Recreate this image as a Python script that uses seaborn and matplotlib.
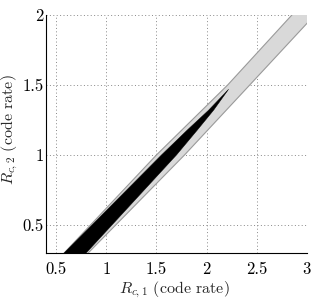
import matplotlib
matplotlib.use('Agg')
import matplotlib.pyplot as plt
import seaborn as sns

# gray band (achievable region), edges
band_upper_x = [0.44, 0.58, 1.50, 2.21, 2.85, 3.05]
band_upper_y = [0.20, 0.30, 1.00, 1.50, 2.00, 2.15]
band_lower_x = [0.69, 0.82, 1.78, 2.43, 3.00, 3.10]
band_lower_y = [0.20, 0.30, 1.00, 1.50, 1.94, 2.02]

# black wedge
wedge_upper_x = [0.44, 0.58, 1.55, 1.81, 2.02, 2.22]
wedge_upper_y = [0.20, 0.30, 1.00, 1.18, 1.32, 1.47]
wedge_lower_x = [0.67, 0.80, 1.70, 1.91, 2.07, 2.22]
wedge_lower_y = [0.20, 0.30, 1.00, 1.18, 1.32, 1.47]

xticks = [0.5, 1, 1.5, 2, 2.5, 3]
yticks = [0.5, 1, 1.5, 2]

sns.set_style('white')
plt.rcParams['font.family'] = 'serif'
plt.rcParams['font.serif'] = ['cmr10']
plt.rcParams['mathtext.fontset'] = 'cm'
plt.rcParams['axes.formatter.use_mathtext'] = True

fig = plt.figure(figsize=(3.2, 3.07), dpi=100)
ax = fig.add_axes([0.144, 0.176, 0.815, 0.775])

ax.fill(band_upper_x + band_lower_x[::-1], band_upper_y + band_lower_y[::-1],
        color='#d9d9d9', lw=0, zorder=2)
sns.lineplot(x=band_upper_x, y=band_upper_y, sort=False, estimator=None,
             color='#9a9a9a', lw=0.8, ax=ax, zorder=3)
sns.lineplot(x=band_lower_x, y=band_lower_y, sort=False, estimator=None,
             color='#9a9a9a', lw=0.8, ax=ax, zorder=3)
ax.fill(wedge_upper_x + wedge_lower_x[::-1], wedge_upper_y + wedge_lower_y[::-1],
        color='black', lw=0.3, ec='black', zorder=4)

ax.set_xlim(0.4, 3)
ax.set_ylim(0.3, 2)
ax.set_xticks(xticks)
ax.set_yticks(yticks)
ax.set_xticklabels(['0.5', '1', '1.5', '2', '2.5', '3'])
ax.set_yticklabels(['0.5', '1', '1.5', '2'])
ax.grid(True, color='#888888', linestyle=(0, (1, 2.5)), lw=0.7, zorder=1)
ax.set_axisbelow(True)

for s in ['top', 'right']:
    ax.spines[s].set_visible(False)
for s in ['left', 'bottom']:
    ax.spines[s].set_color('black')
    ax.spines[s].set_linewidth(0.8)

ax.tick_params(direction='in', length=3, width=0.7, labelsize=12,
               colors='black')
ax.tick_params(axis='x', pad=6)
ax.tick_params(axis='y', pad=2)
ax.set_xlabel(r'$R_{c,1}$ (code rate)', fontsize=11.5, va='center')
ax.set_ylabel(r'$R_{c,2}$ (code rate)', fontsize=11.5, va='center')
ax.xaxis.set_label_coords(0.49, -0.155)
ax.yaxis.set_label_coords(-0.138, 0.52)

fig.savefig('out.png', dpi=100)
